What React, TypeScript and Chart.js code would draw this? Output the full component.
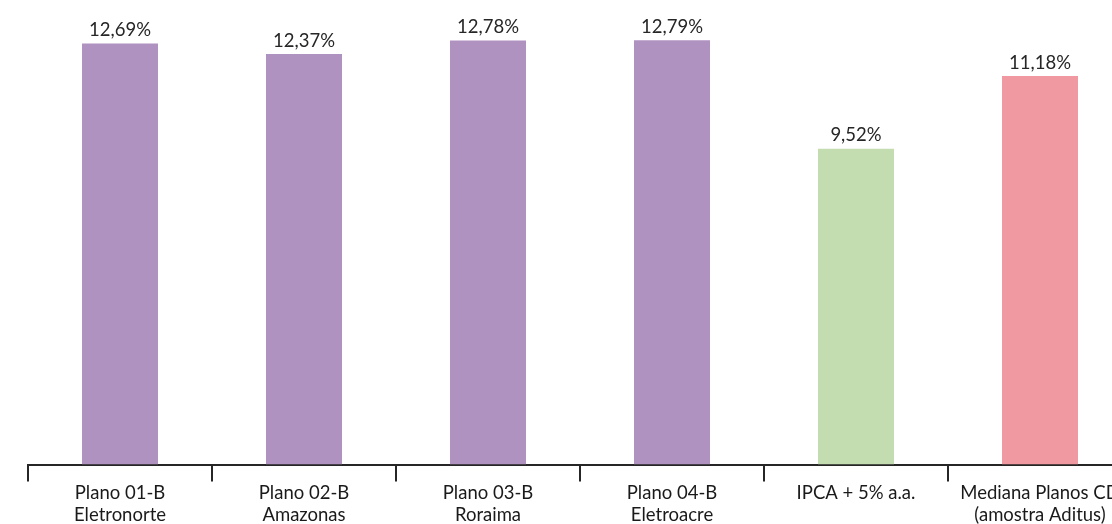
import React, { useEffect, useRef } from "react";
import { Chart, registerables } from "chart.js";

Chart.register(...registerables);

const categories: string[][] = [
  ["Plano 01-B", "Eletronorte"],
  ["Plano 02-B", "Amazonas"],
  ["Plano 03-B", "Roraima"],
  ["Plano 04-B", "Eletroacre"],
  ["IPCA + 5% a.a."],
  ["Mediana Planos CD", "(amostra Aditus)"],
];
const barValues: number[] = [12.69, 12.37, 12.78, 12.79, 9.52, 11.71];
const valueLabels: string[] = ["12,69%", "12,37%", "12,78%", "12,79%", "9,52%", "11,18%"];
const barColors: string[] = ["#B092C0", "#B092C0", "#B092C0", "#B092C0", "#C3DCB0", "#F199A0"];

const FONT = "Lato, 'Open Sans', sans-serif";

const labelPlugin = {
  id: "valueLabels",
  afterDatasetsDraw(chart: any) {
    const ctx = chart.ctx;
    const meta = chart.getDatasetMeta(0);
    ctx.save();
    ctx.font = `18.5px ${FONT}`;
    ctx.fillStyle = "#262626";
    ctx.textAlign = "center";
    ctx.textBaseline = "bottom";
    meta.data.forEach((bar: any, i: number) => {
      ctx.fillText(valueLabels[i], bar.x, bar.y - 4);
    });
    ctx.restore();
  },
};

export default function App() {
  const ref = useRef<HTMLCanvasElement>(null);
  useEffect(() => {
    if (!ref.current) return;
    const chart = new Chart(ref.current, {
      type: "bar",
      data: {
        labels: categories,
        datasets: [
          {
            data: barValues,
            backgroundColor: barColors,
            barPercentage: 0.413,
            categoryPercentage: 1,
          },
        ],
      },
      options: {
        responsive: false,
        animation: false,
        layout: { padding: { left: 28, right: 8, top: 0, bottom: 0 } },
        plugins: { legend: { display: false }, tooltip: { enabled: false } },
        scales: {
          y: { display: false, min: 0, max: 14 },
          x: {
            offset: true,
            grid: {
              display: true,
              drawOnChartArea: false,
              offset: true,
              tickLength: 17,
              color: "#262626",
              lineWidth: 2,
            },
            border: { display: true, color: "#262626", width: 2 },
            ticks: {
              color: "#1a1a1a",
              font: { family: FONT, size: 18.5, lineHeight: 1.2 },
              padding: 0,
              maxRotation: 0,
              autoSkip: false,
            },
          },
        },
      },
      plugins: [labelPlugin],
    });
    return () => chart.destroy();
  }, []);
  return (
    <div style={{ position: "fixed", left: 0, top: 0, width: 1112, height: 524, overflow: "hidden", background: "#fff" }}>
      <canvas ref={ref} width={1140} height={526} style={{ width: 1140, height: 526 }} />
    </div>
  );
}
